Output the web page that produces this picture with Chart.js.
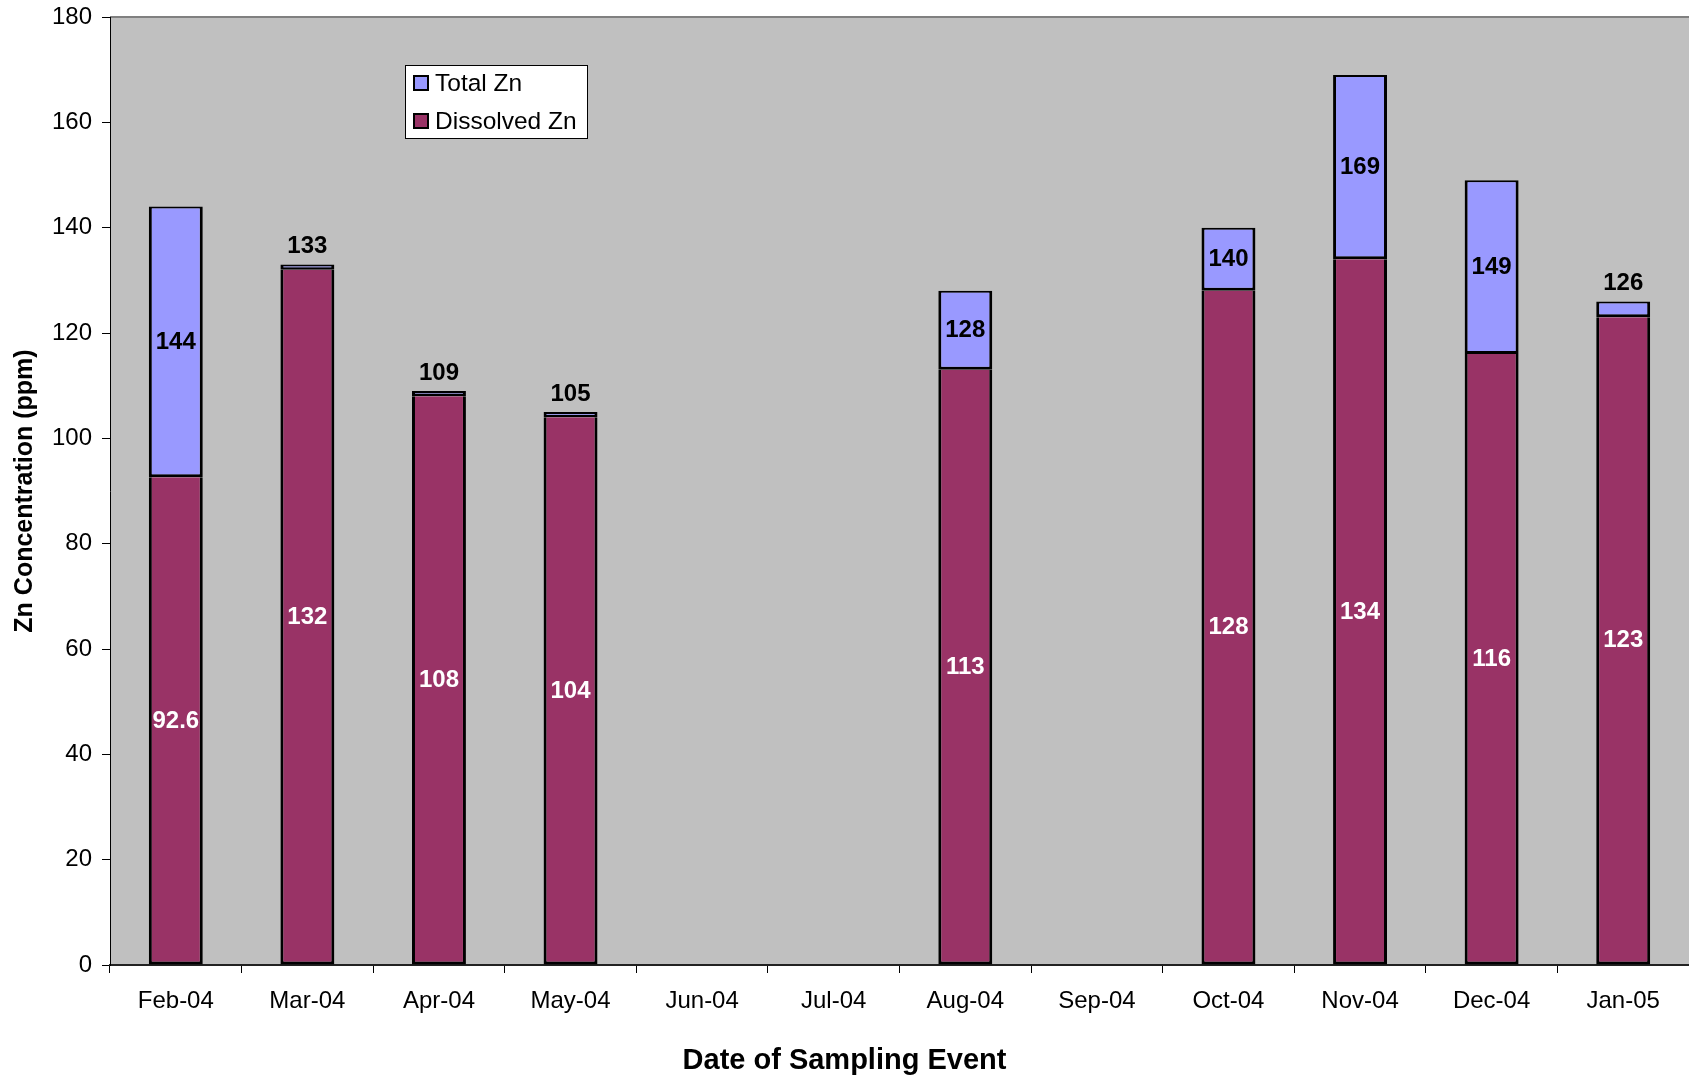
<!DOCTYPE html>
<html>
<head>
<meta charset="utf-8">
<script src="https://cdn.jsdelivr.net/npm/chart.js@4/dist/chart.umd.min.js"></script>
<style>
html,body{margin:0;padding:0;background:#fff;}
#wrap{width:1689px;height:1080px;}
</style>
</head>
<body>
<div id="wrap"><canvas id="c" width="1689" height="1080"></canvas></div>
<script>
const categories = ['Feb-04','Mar-04','Apr-04','May-04','Jun-04','Jul-04','Aug-04','Sep-04','Oct-04','Nov-04','Dec-04','Jan-05'];
const dissolvedZn = [92.6, 132, 108, 104, null, null, 113, null, 128, 134, 116, 123];
const totalZn = [144, 133, 109, 105, null, null, 128, null, 140, 169, 149, 126];
const yMin = 0;
const yMax = 180;
const yStep = 20;
const seriesNames = ['Dissolved Zn', 'Total Zn'];
const seriesColors = ['#993366', '#9999FF'];
const xTitle = 'Date of Sampling Event';
const yTitle = 'Zn Concentration (ppm)';

const totalAboveDissolved = totalZn.map((t, i) => (t == null || dissolvedZn[i] == null) ? null : +(t - dissolvedZn[i]).toFixed(3));

const FONT = '"Liberation Sans", Arial, sans-serif';
Chart.defaults.font.family = FONT;
Chart.defaults.color = '#000';

const plotBg = {
  id: 'plotBg',
  beforeDraw(chart) {
    const {ctx, chartArea: a} = chart;
    ctx.save();
    ctx.fillStyle = '#C0C0C0';
    ctx.fillRect(a.left, a.top, a.right - a.left, a.bottom - a.top);
    ctx.strokeStyle = '#808080';
    ctx.lineWidth = 2;
    ctx.beginPath();
    ctx.moveTo(a.left, a.top);
    ctx.lineTo(a.right, a.top);
    ctx.stroke();
    ctx.restore();
  }
};

const valueLabels = {
  id: 'valueLabels',
  afterDatasetsDraw(chart) {
    const ctx = chart.ctx;
    ctx.save();
    ctx.font = 'bold 24px ' + FONT;
    ctx.textAlign = 'center';
    ctx.textBaseline = 'middle';
    const m0 = chart.getDatasetMeta(0);
    const m1 = chart.getDatasetMeta(1);
    m0.data.forEach((el, i) => {
      if (dissolvedZn[i] == null) return;
      ctx.fillStyle = '#fff';
      ctx.fillText(String(dissolvedZn[i]), el.x, (el.y + el.base) / 2);
    });
    m1.data.forEach((el, i) => {
      if (totalZn[i] == null) return;
      ctx.fillStyle = '#000';
      const h = Math.abs(el.base - el.y);
      if (h > 34) {
        ctx.fillText(String(totalZn[i]), el.x, (el.y + el.base) / 2);
      } else {
        ctx.fillText(String(totalZn[i]), el.x, el.y - 18);
      }
    });
    ctx.restore();
  }
};

const xTitleCentered = {
  id: 'xTitleCentered',
  afterDraw(chart) {
    const ctx = chart.ctx;
    ctx.save();
    ctx.font = 'bold 29px ' + FONT;
    ctx.fillStyle = '#000';
    ctx.textAlign = 'center';
    ctx.textBaseline = 'middle';
    ctx.fillText(xTitle, chart.width / 2, 1061);
    ctx.restore();
  }
};

const boxLegend = {
  id: 'boxLegend',
  afterDraw(chart) {
    const ctx = chart.ctx;
    const x = 405, y = 65, w = 182, h = 73;
    ctx.save();
    ctx.fillStyle = '#fff';
    ctx.fillRect(x, y, w, h);
    ctx.strokeStyle = '#000';
    ctx.lineWidth = 1;
    ctx.strokeRect(x + 0.5, y + 0.5, w, h);
    const order = [1, 0];
    ctx.font = '24.5px ' + FONT;
    ctx.textBaseline = 'middle';
    ctx.textAlign = 'left';
    order.forEach((di, k) => {
      const ds = chart.data.datasets[di];
      const cy = y + 18 + k * 38;
      ctx.fillStyle = ds.backgroundColor;
      ctx.fillRect(x + 9, cy - 7, 14, 14);
      ctx.strokeStyle = '#000';
      ctx.lineWidth = 2;
      ctx.strokeRect(x + 9, cy - 7, 14, 14);
      ctx.fillStyle = '#000';
      ctx.fillText(ds.label, x + 30, cy + 1);
    });
    ctx.restore();
  }
};

new Chart(document.getElementById('c'), {
  type: 'bar',
  data: {
    labels: categories,
    datasets: [
      {
        label: seriesNames[0],
        data: dissolvedZn,
        backgroundColor: seriesColors[0],
        borderColor: '#000',
        borderWidth: {top: 0, left: 3, right: 3, bottom: 3},
        borderSkipped: false,
        categoryPercentage: 1,
        barPercentage: 0.41
      },
      {
        label: seriesNames[1],
        data: totalAboveDissolved,
        backgroundColor: seriesColors[1],
        borderColor: '#000',
        borderWidth: {top: 2, left: 3, right: 3, bottom: 3},
        borderSkipped: false,
        categoryPercentage: 1,
        barPercentage: 0.41
      }
    ]
  },
  options: {
    responsive: false,
    animation: false,
    layout: {padding: {top: 17, left: 0, right: 0, bottom: 0}},
    plugins: {
      legend: {display: false},
      tooltip: {enabled: false}
    },
    scales: {
      x: {
        stacked: true,
        offset: true,
        grid: {
          offset: true,
          drawOnChartArea: false,
          drawTicks: true,
          tickLength: 8,
          color: '#000',
          lineWidth: 1
        },
        border: {display: true, color: '#222', width: 2},
        ticks: {
          font: {size: 24},
          color: '#000',
          padding: 14,
          maxRotation: 0,
          autoSkip: false
        },
        title: {
          display: false,
          text: xTitle
        },
        afterFit(scale) { scale.height = 115; scale.paddingLeft = 0; scale.paddingRight = 0; }
      },
      y: {
        stacked: true,
        min: yMin,
        max: yMax,
        grid: {
          drawOnChartArea: false,
          drawTicks: true,
          tickLength: 8,
          color: '#000',
          lineWidth: 1
        },
        border: {display: true, color: '#000', width: 1},
        ticks: {
          stepSize: yStep,
          font: {size: 24},
          color: '#000',
          padding: 10
        },
        title: {
          display: true,
          text: yTitle,
          font: {size: 25, weight: 'bold'},
          color: '#000',
          padding: {top: 10, bottom: 0}
        },
        afterFit(scale) { scale.width = 110; scale.paddingTop = 0; scale.paddingBottom = 0; }
      }
    }
  },
  plugins: [plotBg, valueLabels, xTitleCentered, boxLegend]
});
</script>
</body>
</html>
